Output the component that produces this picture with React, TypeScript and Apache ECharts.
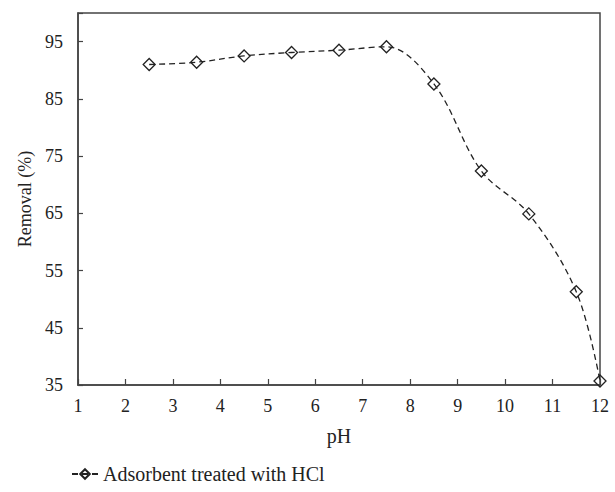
import React, { useEffect, useRef } from "react";
import * as echarts from "echarts";

const phValues = [2.5, 3.5, 4.5, 5.5, 6.5, 7.5, 8.5, 9.5, 10.5, 11.5, 12];
const removalValues = [91.0, 91.4, 92.5, 93.1, 93.5, 94.1, 87.6, 72.4, 64.9, 51.3, 35.7];
const seriesName = "Adsorbent treated with HCl";

export default function App() {
  const ref = useRef<HTMLDivElement>(null);
  useEffect(() => {
    if (!ref.current) return;
    const chart = echarts.init(ref.current, null, { renderer: "svg" });
    const font = "Liberation Serif, Times New Roman, serif";
    const ink = "#222";
    chart.setOption({
      animation: false,
      backgroundColor: "#fff",
      textStyle: { fontFamily: font },
      grid: {
        left: 78,
        right: 15,
        top: 13,
        bottom: 107,
        show: true,
        borderColor: "#444",
        borderWidth: 1.5,
        containLabel: false,
      },
      legend: {
        left: 66,
        top: 459,
        itemWidth: 26,
        itemHeight: 12,
        textStyle: { fontFamily: font, fontSize: 20, color: ink },
        data: [seriesName],
      },
      xAxis: {
        type: "value",
        min: 1,
        max: 12,
        interval: 1,
        name: "pH",
        nameLocation: "middle",
        nameGap: 41,
        nameTextStyle: { fontFamily: font, fontSize: 20, color: ink },
        axisLine: { show: true, lineStyle: { color: "#444", width: 1.5 } },
        axisTick: { show: true, inside: true, length: 6, lineStyle: { color: "#444", width: 1.2 } },
        axisLabel: { fontFamily: font, fontSize: 18, color: ink, margin: 12 },
        splitLine: { show: false },
      },
      yAxis: {
        type: "value",
        min: 35,
        max: 100,
        interval: 10,
        name: "Removal (%)",
        nameLocation: "middle",
        nameGap: 44,
        nameTextStyle: { fontFamily: font, fontSize: 18, color: ink },
        axisLine: { show: true, lineStyle: { color: "#444", width: 1.5 } },
        axisTick: { show: true, inside: true, length: 5, lineStyle: { color: "#444", width: 1.2 } },
        axisLabel: {
          fontFamily: font,
          fontSize: 18,
          color: ink,
          margin: 15,
          formatter: (v: number) => (v === 100 ? "" : String(v)),
        },
        splitLine: { show: false },
      },
      series: [
        {
          name: seriesName,
          type: "line",
          data: phValues.map((x, i) => [x, removalValues[i]]),
          smooth: 0.35,
          symbol: "diamond",
          symbolSize: 12,
          clip: false,
          itemStyle: { color: "rgba(0,0,0,0)", borderColor: ink, borderWidth: 1.3 },
          lineStyle: { color: ink, width: 1.3, type: [6, 4] },
        },
      ],
    });
    return () => chart.dispose();
  }, []);
  return (
    <div
      ref={ref}
      style={{ position: "absolute", left: 0, top: 0, width: 615, height: 492 }}
    />
  );
}
